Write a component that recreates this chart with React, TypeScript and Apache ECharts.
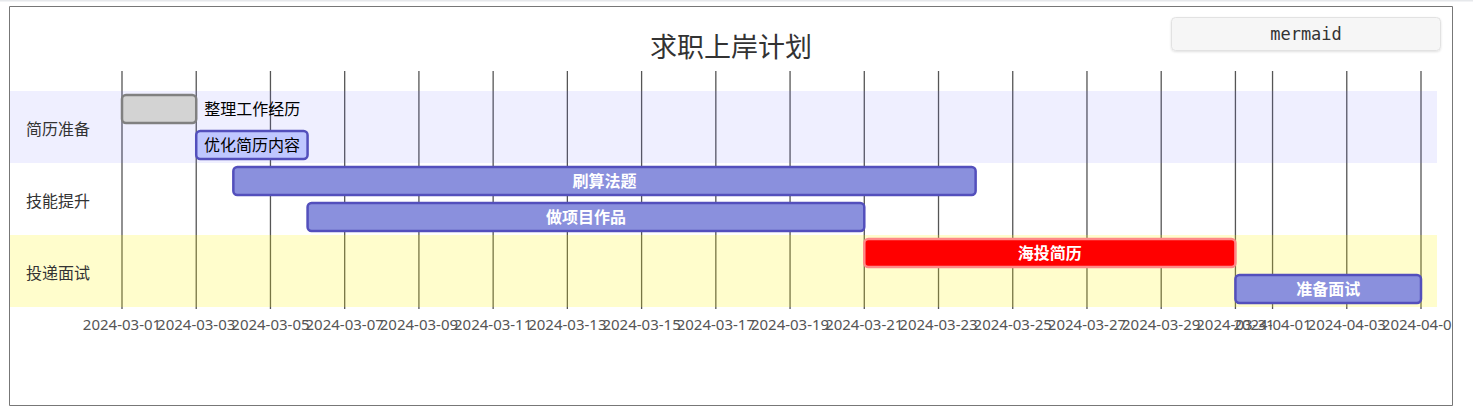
import React, { useEffect, useRef } from 'react';
import * as echarts from 'echarts';

const chartTitle = '求职上岸计划';
const sections = ['简历准备', '技能提升', '投递面试'];
const sectionFills = ['rgba(102,102,255,0.1)', 'rgba(255,255,255,0)', 'rgba(255,244,0,0.2)'];
const taskNames = ['整理工作经历', '优化简历内容', '刷算法题', '做项目作品', '海投简历', '准备面试'];
const taskSections = [0, 0, 1, 1, 2, 2];
const taskStarts = ['2024-03-01', '2024-03-03', '2024-03-04', '2024-03-06', '2024-03-21', '2024-03-31'];
const taskEnds = ['2024-03-03', '2024-03-06', '2024-03-24', '2024-03-21', '2024-03-31', '2024-04-05'];
const taskStatus = ['done', 'active', 'normal', 'normal', 'crit', 'normal'];
const tickDates = [
  '2024-03-01', '2024-03-03', '2024-03-05', '2024-03-07', '2024-03-09', '2024-03-11',
  '2024-03-13', '2024-03-15', '2024-03-17', '2024-03-19', '2024-03-21', '2024-03-23',
  '2024-03-25', '2024-03-27', '2024-03-29', '2024-03-31', '2024-04-01', '2024-04-03', '2024-04-05',
];
const axisStart = '2024-03-01';
const axisEnd = '2024-04-05';

const statusStyles: Record<string, { fill: string; stroke: string; text: string }> = {
  done: { fill: '#d3d3d3', stroke: '#808080', text: '#000' },
  active: { fill: '#bfc7ff', stroke: '#534fbc', text: '#000' },
  normal: { fill: '#8a90dd', stroke: '#534fbc', text: '#fff' },
  crit: { fill: '#ff0000', stroke: '#ff8888', text: '#fff' },
};

const DAY = 86400000;
function toUTC(s: string) {
  const [y, m, d] = s.split('-').map(Number);
  return Date.UTC(y, m - 1, d);
}
const base = toUTC(axisStart);
const dayNum = (s: string) => (toUTC(s) - base) / DAY;
const fmtDay = (n: number) => new Date(base + Math.round(n) * DAY).toISOString().slice(0, 10);

const FONT = '"Noto Sans", "Noto Sans CJK SC", sans-serif';
const ROW_PX = 36;
const GRID_TOP = 91;

export default function App() {
  const ref = useRef<HTMLDivElement>(null);
  useEffect(() => {
    if (!ref.current) return;
    const chart = echarts.init(ref.current, undefined, { renderer: 'svg' });

    const sectionData: number[][] = [];
    let row = 0;
    sections.forEach((_, si) => {
      const count = taskSections.filter((s) => s === si).length;
      sectionData.push([si, row, row + count]);
      row += count;
    });
    const totalRows = row;
    const taskData = taskNames.map((_, i) => [dayNum(taskStarts[i]), dayNum(taskEnds[i]), i, i]);
    const tickValues = tickDates.map(dayNum);
    const lineTop = -20 / ROW_PX;
    const lineBottom = totalRows + 2 / ROW_PX;

    chart.setOption({
      animation: false,
      grid: { left: 122, right: 52, top: GRID_TOP, bottom: 103 },
      xAxis: {
        type: 'value',
        min: dayNum(axisStart),
        max: dayNum(axisEnd),
        axisLine: { show: false },
        splitLine: { show: false },
        axisTick: { show: false },
        axisLabel: { show: false },
      },
      yAxis: { type: 'value', min: 0, max: totalRows, inverse: true, show: false },
      graphic: [
        { type: 'rect', z: 0, shape: { x: 0, y: 0, width: 1473, height: 1.5 }, style: { fill: '#e6e8eb' } },
        {
          type: 'rect',
          z: 100,
          shape: { x: 1453, y: 300, width: 20, height: 40 },
          style: { fill: '#fff' },
        },
        {
          type: 'rect',
          z: 101,
          shape: { x: 9.5, y: 6.5, width: 1443, height: 399 },
          style: { fill: 'none', stroke: '#777', lineWidth: 1 },
        },
        {
          type: 'rect',
          shape: { x: 1171.5, y: 17.5, width: 269, height: 33, r: 4 },
          style: {
            fill: '#f6f6f6',
            stroke: '#e2e2e2',
            lineWidth: 1,
            shadowBlur: 2,
            shadowOffsetY: 1,
            shadowColor: 'rgba(0,0,0,0.12)',
          },
        },
        {
          type: 'text',
          style: {
            text: 'mermaid',
            x: 1306,
            y: 34,
            align: 'center',
            verticalAlign: 'middle',
            fontSize: 17,
            fontFamily: '"DejaVu Sans Mono", monospace',
            fill: '#333',
          },
        },
        {
          type: 'text',
          style: {
            text: chartTitle,
            x: 731,
            y: 46,
            align: 'center',
            verticalAlign: 'middle',
            fontSize: 27,
            fontFamily: FONT,
            fill: '#333',
          },
        },
      ],
      series: [
        {
          type: 'custom',
          z: 1,
          silent: true,
          clip: false,
          data: tickValues.map((v) => [v]),
          encode: { x: 0 },
          renderItem: (params: any, api: any) => {
            const v = api.value(0);
            const p0 = api.coord([v, lineTop]);
            const p1 = api.coord([v, lineBottom]);
            return {
              type: 'group',
              children: [
                {
                  type: 'line',
                  shape: { x1: p0[0], y1: p0[1], x2: p1[0], y2: p1[1] },
                  style: { stroke: '#555', lineWidth: 1.3 },
                },
                {
                  type: 'text',
                  style: {
                    text: fmtDay(v),
                    x: p1[0],
                    y: p1[1] + 15,
                    align: 'center',
                    verticalAlign: 'middle',
                    fontSize: 15,
                    fontFamily: FONT,
                    fill: '#555',
                  },
                },
              ],
            };
          },
        },
        {
          type: 'custom',
          z: 2,
          silent: true,
          clip: false,
          data: sectionData,
          encode: { y: [1, 2] },
          renderItem: (params: any, api: any) => {
            const si = api.value(0);
            const y0 = api.coord([0, api.value(1)])[1];
            const y1 = api.coord([0, api.value(2)])[1];
            return {
              type: 'group',
              children: [
                {
                  type: 'rect',
                  shape: { x: 10, y: y0, width: 1427, height: y1 - y0 },
                  style: { fill: sectionFills[si] },
                },
                {
                  type: 'text',
                  style: {
                    text: sections[si],
                    x: 26,
                    y: (y0 + y1) / 2 + 2,
                    align: 'left',
                    verticalAlign: 'middle',
                    fontSize: 16,
                    fontFamily: FONT,
                    fill: '#333',
                  },
                },
              ],
            };
          },
        },
        {
          type: 'custom',
          z: 3,
          silent: true,
          clip: false,
          data: taskData,
          encode: { x: [0, 1], y: 2 },
          renderItem: (params: any, api: any) => {
            const idx = api.value(3);
            const r = api.value(2);
            const s = api.coord([api.value(0), r + 0.5]);
            const e = api.coord([api.value(1), r + 0.5]);
            const cy = s[1];
            const st = statusStyles[taskStatus[idx]];
            const name = taskNames[idx];
            const w = e[0] - s[0];
            const textW = name.length * 16;
            const inside = textW + 10 < w;
            return {
              type: 'group',
              children: [
                {
                  type: 'rect',
                  shape: { x: s[0], y: cy - 14, width: w, height: 28, r: 4 },
                  style: { fill: st.fill, stroke: st.stroke, lineWidth: 2.5 },
                },
                {
                  type: 'text',
                  style: {
                    text: name,
                    x: inside ? s[0] + w / 2 : e[0] + 8,
                    y: cy,
                    align: inside ? 'center' : 'left',
                    verticalAlign: 'middle',
                    fontSize: 16,
                    fontWeight: inside && st.text === '#fff' ? 'bold' : 'normal',
                    fontFamily: FONT,
                    fill: inside ? st.text : '#000',
                  },
                },
              ],
            };
          },
        },
      ],
    });
    return () => chart.dispose();
  }, []);
  return <div ref={ref} style={{ position: 'fixed', left: 0, top: 0, width: 1473, height: 410, background: '#fff' }} />;
}
